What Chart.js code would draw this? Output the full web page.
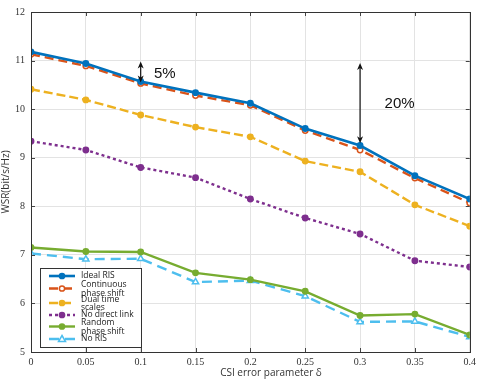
<!DOCTYPE html>
<html>
<head>
<meta charset="utf-8">
<script src="https://cdn.jsdelivr.net/npm/chart.js@4"></script>
<style>
  html, body { margin: 0; padding: 0; background: #fff; }
  #wrap { width: 480px; height: 381px; }
</style>
</head>
<body>
<div id="wrap"><canvas id="c"></canvas></div>
<script>
// x values (CSI error parameter)
const deltas = [0, 0.05, 0.1, 0.15, 0.2, 0.25, 0.3, 0.35, 0.4];
const yTicks = [5, 6, 7, 8, 9, 10, 11, 12];

// series
const idealRis = [11.18, 10.94, 10.57, 10.34, 10.12, 9.60, 9.25, 8.63, 8.15];
const continuousShift = [11.13, 10.89, 10.53, 10.28, 10.08, 9.56, 9.16, 8.58, 8.07];
const dualTimeScales = [10.41, 10.19, 9.88, 9.63, 9.43, 8.93, 8.71, 8.03, 7.59];
const noDirectLink = [9.34, 9.16, 8.80, 8.59, 8.15, 7.76, 7.43, 6.88, 6.75];
const randomShift = [7.15, 7.07, 7.06, 6.63, 6.49, 6.25, 5.75, 5.78, 5.35];
const noRis = [7.03, 6.91, 6.92, 6.44, 6.47, 6.15, 5.62, 5.63, 5.31];

// annotation arrows: [x, yLow, yHigh, label, labelX, labelY]
const gapNotes = [
  [0.1, 10.55, 10.98, '5%', 0.122, 10.72],
  [0.3, 9.30, 10.95, '20%', 0.336, 10.10]
];

function pts(arr) {
  return arr.map((v, i) => ({ x: deltas[i], y: v }));
}

function series(label, data, color, dash, style, fill, width) {
  return {
    label: label,
    data: pts(data),
    borderColor: color,
    backgroundColor: fill ? color : '#fff',
    pointBackgroundColor: fill ? color : '#fff',
    pointBorderColor: color,
    pointBorderWidth: 1.5,
    pointStyle: style,
    pointRadius: style === 'triangle' ? 3.6 : 2.7,
    borderWidth: width || 2.4,
    borderDash: dash,
    tension: 0
  };
}

// draws the boxed legend in the lower left, the arrows and the x title
const extras = {
  id: 'extras',
  afterDatasetsDraw(chart) {
    const ctx = chart.ctx;
    const xs = chart.scales.x, ys = chart.scales.y;
    const area = chart.chartArea;

    // inner tick marks, MATLAB style
    ctx.save();
    ctx.strokeStyle = '#444';
    ctx.lineWidth = 1;
    deltas.forEach(d => {
      const px = Math.round(xs.getPixelForValue(d)) + 0.5;
      ctx.beginPath();
      ctx.moveTo(px, area.bottom); ctx.lineTo(px, area.bottom - 4);
      ctx.moveTo(px, area.top); ctx.lineTo(px, area.top + 4);
      ctx.stroke();
    });
    yTicks.forEach(t => {
      const py = Math.round(ys.getPixelForValue(t)) + 0.5;
      ctx.beginPath();
      ctx.moveTo(area.left, py); ctx.lineTo(area.left + 4, py);
      ctx.moveTo(area.right, py); ctx.lineTo(area.right - 4, py);
      ctx.stroke();
    });
    ctx.strokeStyle = '#333';
    ctx.strokeRect(Math.round(area.left) + 0.5, Math.round(area.top) + 0.5,
      Math.round(area.right - area.left), Math.round(area.bottom - area.top));
    ctx.restore();

    // x axis title, sits a bit right of centre in the original
    ctx.save();
    ctx.fillStyle = '#333';
    ctx.font = '10px "Open Sans", "DejaVu Sans", sans-serif';
    ctx.textAlign = 'center';
    ctx.textBaseline = 'middle';
    ctx.fillText('CSI error parameter δ', 271, 373);
    ctx.restore();

    // arrows
    ctx.save();
    ctx.strokeStyle = '#111';
    ctx.fillStyle = '#111';
    ctx.lineWidth = 1.2;
    gapNotes.forEach(n => {
      const px = xs.getPixelForValue(n[0]);
      const y1 = ys.getPixelForValue(n[1]);
      const y2 = ys.getPixelForValue(n[2]);
      ctx.beginPath();
      ctx.moveTo(px, y1 - 4); ctx.lineTo(px, y2 + 4);
      ctx.stroke();
      ctx.beginPath();
      ctx.moveTo(px, y2); ctx.lineTo(px - 3, y2 + 7); ctx.lineTo(px, y2 + 5); ctx.lineTo(px + 3, y2 + 7);
      ctx.closePath(); ctx.fill();
      ctx.beginPath();
      ctx.moveTo(px, y1); ctx.lineTo(px - 3, y1 - 7); ctx.lineTo(px, y1 - 5); ctx.lineTo(px + 3, y1 - 7);
      ctx.closePath(); ctx.fill();
      ctx.font = '15px "Liberation Sans", Arial, sans-serif';
      ctx.textAlign = 'center';
      ctx.textBaseline = 'middle';
      ctx.fillText(n[3], xs.getPixelForValue(n[4]), ys.getPixelForValue(n[5]));
    });
    ctx.restore();

    // legend box
    const bx = 40, by = 268, bw = 101, bh = 79;
    ctx.save();
    ctx.fillStyle = '#fff';
    ctx.fillRect(bx, by, bw, bh);
    ctx.strokeStyle = '#333';
    ctx.lineWidth = 1;
    ctx.strokeRect(bx + 0.5, by + 0.5, bw, bh);
    const rows = [
      [276], [285, 294], [300, 308], [315], [323, 332], [339]
    ];
    ctx.font = '8.5px "Open Sans", "DejaVu Sans", sans-serif';
    ctx.textBaseline = 'middle';
    chart.data.datasets.forEach((ds, i) => {
      const lines = Array.isArray(ds.label) ? ds.label : [ds.label];
      const r = rows[i];
      const my = r.length > 1 ? (r[0] + r[1]) / 2 - 1 : r[0];
      ctx.strokeStyle = ds.borderColor;
      ctx.lineWidth = ds.borderWidth;
      ctx.setLineDash(ds.borderDash || []);
      ctx.beginPath();
      ctx.moveTo(49, my); ctx.lineTo(75, my);
      ctx.stroke();
      ctx.setLineDash([]);
      ctx.lineWidth = 1.5;
      ctx.fillStyle = ds.pointBackgroundColor;
      ctx.beginPath();
      if (ds.pointStyle === 'triangle') {
        ctx.moveTo(62, my - 3.5); ctx.lineTo(65.5, my + 2.5); ctx.lineTo(58.5, my + 2.5); ctx.closePath();
      } else {
        ctx.arc(62, my, 2.6, 0, Math.PI * 2);
      }
      ctx.fill(); ctx.stroke();
      ctx.fillStyle = '#222';
      lines.forEach((t, k) => ctx.fillText(t, 81, r[k]));
    });
    ctx.restore();
  }
};

new Chart(document.getElementById('c'), {
  type: 'line',
  data: {
    datasets: [
      series('Ideal RIS', idealRis, '#0072BD', [], 'circle', true, 2.6),
      series(['Continuous', 'phase shift'], continuousShift, '#D95319', [9, 5], 'circle', false),
      series(['Dual time', 'scales'], dualTimeScales, '#EDB120', [9, 4], 'circle', true),
      series('No direct link', noDirectLink, '#7E2F8E', [3, 3], 'circle', true),
      series(['Random', 'phase shift'], randomShift, '#77AC30', [], 'circle', true),
      series('No RIS', noRis, '#4DBEEE', [10, 6], 'triangle', false)
    ]
  },
  plugins: [extras],
  options: {
    responsive: true,
    maintainAspectRatio: false,
    animation: false,
    layout: { padding: { top: 9, right: 9, left: 0, bottom: 0 } },
    plugins: {
      legend: { display: false },
      tooltip: { enabled: false }
    },
    scales: {
      x: {
        type: 'linear',
        min: 0,
        max: 0.4,
        afterBuildTicks(scale) { scale.ticks = deltas.map(v => ({ value: v })); },
        afterFit(scale) { scale.height = 29; },
        grid: { color: '#e3e3e3', drawTicks: false },
        border: { display: false },
        ticks: {
          padding: 4,
          color: '#333',
          maxRotation: 0,
          font: { family: '"Liberation Serif", serif', size: 10 },
          callback: v => String(Math.round(v * 100) / 100)
        },
        title: { display: false }
      },
      y: {
        min: 5,
        max: 12,
        afterBuildTicks(scale) { scale.ticks = yTicks.map(v => ({ value: v })); },
        afterFit(scale) { scale.width = 31; },
        grid: { color: '#e3e3e3', drawTicks: false },
        border: { display: false },
        ticks: {
          padding: 6,
          color: '#333',
          font: { family: '"Liberation Serif", serif', size: 10 }
        },
        title: {
          display: true,
          text: 'WSR(bit/s/Hz)',
          color: '#333',
          padding: 0,
          font: { family: '"Open Sans", "DejaVu Sans", sans-serif', size: 10 }
        }
      }
    }
  }
});
</script>
</body>
</html>
